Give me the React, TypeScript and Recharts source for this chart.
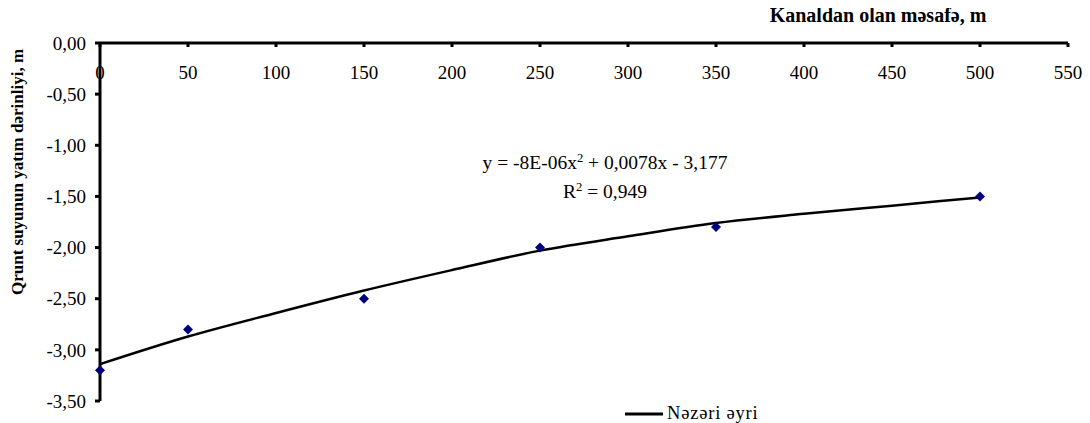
import React from "react";
import { ComposedChart, Line, Scatter, XAxis, YAxis, Legend } from "recharts";

const xTicks = [0, 50, 100, 150, 200, 250, 300, 350, 400, 450, 500, 550];
const yTicks = [-3.5, -3, -2.5, -2, -1.5, -1, -0.5, 0];

const pointX = [0, 50, 150, 250, 350, 500];
const pointY = [-3.2, -2.8, -2.5, -2.0, -1.8, -1.5];

const curveX = [0, 50, 100, 150, 200, 250, 300, 350, 400, 450, 500];
const curveY = [-3.14, -2.87, -2.64, -2.42, -2.22, -2.03, -1.89, -1.76, -1.67, -1.59, -1.51];

const seriesName = "Nəzəri əyri";
const xTitle = "Kanaldan olan məsafə, m";
const yTitle = "Qrunt suyunun yatım dərinliyi, m";

const points = pointX.map((x, i) => ({ x, y: pointY[i] }));
const curve = curveX.map((x, i) => ({ x, y: curveY[i] }));

const FONT = "Liberation Serif";
const PLOT_TOP = 35;

const fmt = (v: number) => v.toFixed(2).replace(".", ",");

const XTick = (props: any) => {
  const { x, payload } = props;
  return (
    <g>
      <rect x={x - 1.5} y={PLOT_TOP} width={3} height={4} fill="#000" />
      <text x={x} y={PLOT_TOP + 36} textAnchor="middle" fontSize={19} fontFamily={FONT} fill="#000">
        {payload.value}
      </text>
    </g>
  );
};

const Diamond = (props: any) => {
  const { cx, cy } = props;
  const r = 5;
  return (
    <polygon
      points={`${cx},${cy - r} ${cx + r},${cy} ${cx},${cy + r} ${cx - r},${cy}`}
      fill="#000080"
    />
  );
};

const LegendContent = () => (
  <div style={{ display: "flex", alignItems: "center", fontFamily: FONT, fontSize: 18.5, letterSpacing: 0.8, color: "#000", whiteSpace: "nowrap" }}>
    <svg width={38} height={4} style={{ marginRight: 4 }}>
      <line x1={0} y1={2} x2={38} y2={2} stroke="#000" strokeWidth={3} />
    </svg>
    <span>{seriesName}</span>
  </div>
);

const sup = { fontSize: "0.65em", position: "relative" as const, top: "-0.55em" };

export default function App() {
  return (
    <div style={{ position: "relative", width: 1082, height: 415, fontFamily: FONT }}>
      <ComposedChart width={1082} height={415} margin={{ top: 30, right: 22, bottom: 22, left: 0 }}>
        <XAxis
          type="number"
          dataKey="x"
          orientation="top"
          height={5}
          domain={[0, 550]}
          ticks={xTicks}
          interval={0}
          axisLine={{ stroke: "#000", strokeWidth: 3 }}
          tickLine={false}
          tick={<XTick />}
        />
        <YAxis
          type="number"
          dataKey="y"
          width={92}
          domain={[-3.5, 0]}
          ticks={yTicks}
          interval={0}
          tickFormatter={fmt}
          axisLine={{ stroke: "#000", strokeWidth: 3 }}
          tickLine={{ stroke: "#000", strokeWidth: 3 }}
          tickSize={5}
          tickMargin={9}
          tick={{ fontSize: 19, fontFamily: FONT, fill: "#000" }}
        />
        <Legend
          layout="horizontal"
          verticalAlign="middle"
          align="center"
          content={<LegendContent />}
          wrapperStyle={{ left: 617, top: 395, width: "auto", height: "auto" }}
        />
        <Line
          data={curve}
          dataKey="y"
          name={seriesName}
          type="monotone"
          stroke="#000"
          strokeWidth={2.5}
          dot={false}
          activeDot={false}
          isAnimationActive={false}
        />
        <Scatter
          data={points}
          dataKey="y"
          name="data"
          legendType="none"
          shape={<Diamond />}
          isAnimationActive={false}
        />
      </ComposedChart>
      <div style={{ position: "absolute", left: 870, top: 7, transform: "translate(-50%,-50%)", fontWeight: "bold", fontSize: 20, whiteSpace: "nowrap", color: "#000" }}>
        {xTitle}
      </div>
      <div style={{ position: "absolute", left: 10, top: 164, transform: "translate(-50%,-50%) rotate(-90deg)", fontWeight: "bold", fontSize: 17, whiteSpace: "nowrap", color: "#000" }}>
        {yTitle}
      </div>
      <div style={{ position: "absolute", left: 597, top: 155, transform: "translate(-50%,-50%)", fontSize: 19.5, whiteSpace: "nowrap", color: "#000", lineHeight: 1 }}>
        y = -8E-06x<span style={sup}>2</span> + 0,0078x - 3,177
      </div>
      <div style={{ position: "absolute", left: 597, top: 184, transform: "translate(-50%,-50%)", fontSize: 19.5, whiteSpace: "nowrap", color: "#000", lineHeight: 1 }}>
        R<span style={sup}>2</span> = 0,949
      </div>
    </div>
  );
}
